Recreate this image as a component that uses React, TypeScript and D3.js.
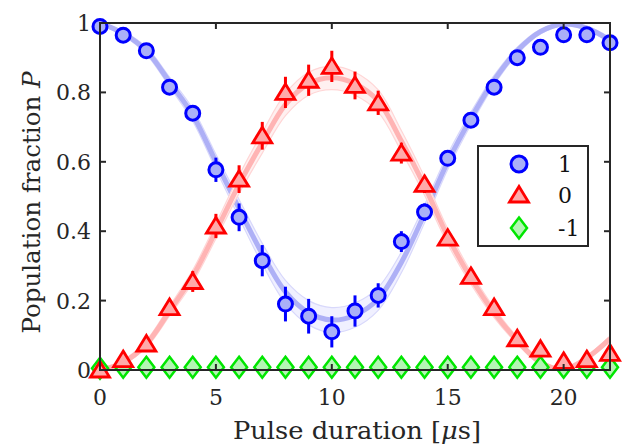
import React, { useRef, useEffect } from "react";
import * as d3 from "d3";

// pulse durations [us]
const times = [0, 1, 2, 3, 4, 5, 6, 7, 8, 9, 10, 11, 12, 13, 14, 15, 16, 17, 18, 19, 20, 21, 22];

// measured populations
const pop1 = [0.99, 0.965, 0.92, 0.815, 0.74, 0.577, 0.44, 0.315, 0.19, 0.155, 0.11, 0.17, 0.215, 0.37, 0.455, 0.61, 0.72, 0.815, 0.9, 0.93, 0.966, 0.966, 0.943];
const err1 = [0.01, 0.01, 0.012, 0.015, 0.02, 0.035, 0.04, 0.045, 0.05, 0.05, 0.045, 0.045, 0.035, 0.03, 0.025, 0.02, 0.015, 0.015, 0.01, 0.01, 0.01, 0.01, 0.01];
const pop0 = [0.0, 0.03, 0.075, 0.18, 0.255, 0.415, 0.55, 0.675, 0.8, 0.835, 0.875, 0.82, 0.77, 0.625, 0.535, 0.38, 0.27, 0.18, 0.09, 0.06, 0.025, 0.03, 0.048];
const err0 = [0.01, 0.012, 0.012, 0.02, 0.03, 0.035, 0.04, 0.04, 0.045, 0.045, 0.045, 0.04, 0.035, 0.03, 0.025, 0.02, 0.015, 0.012, 0.01, 0.01, 0.01, 0.01, 0.01];
const popM1 = [0.005, 0.008, 0.008, 0.008, 0.008, 0.008, 0.008, 0.008, 0.008, 0.008, 0.008, 0.008, 0.008, 0.008, 0.008, 0.008, 0.008, 0.008, 0.008, 0.008, 0.008, 0.008, 0.008];

// fitted curves and their confidence half-widths
const fit1 = [1.0, 0.97, 0.92, 0.83, 0.735, 0.6, 0.465, 0.335, 0.225, 0.165, 0.144, 0.158, 0.205, 0.31, 0.45, 0.6, 0.725, 0.835, 0.92, 0.975, 0.997, 0.985, 0.95];
const band1 = [0.003, 0.006, 0.01, 0.014, 0.018, 0.022, 0.026, 0.03, 0.033, 0.035, 0.036, 0.035, 0.033, 0.03, 0.026, 0.022, 0.018, 0.014, 0.01, 0.007, 0.005, 0.006, 0.008];
const fit0 = [0.0, 0.022, 0.075, 0.17, 0.27, 0.4, 0.535, 0.655, 0.765, 0.825, 0.842, 0.825, 0.775, 0.66, 0.53, 0.385, 0.265, 0.165, 0.085, 0.022, 0.002, 0.035, 0.09];
const band0 = [0.003, 0.006, 0.01, 0.014, 0.018, 0.022, 0.026, 0.03, 0.032, 0.033, 0.034, 0.033, 0.032, 0.03, 0.026, 0.022, 0.018, 0.014, 0.01, 0.007, 0.005, 0.006, 0.008];

const xTicks = [0, 5, 10, 15, 20];
const yTicks = [0, 0.2, 0.4, 0.6, 0.8, 1];
const legendLabels = ["1", "0", "-1"];

const W = 643;
const H = 446;
const FONT = "DejaVu Serif, serif";

const triPath = "M0,-8.5L9.5,7L-9.5,7Z";
const diaPath = "M0,-10.5L8,0L0,10.5L-8,0Z";

const App = () => {
  const svgRef = useRef<SVGSVGElement>(null);

  useEffect(() => {
    if (!svgRef.current) return;
    const margin = { top: 23, right: 33, bottom: 76, left: 100 };
    const width = W - margin.left - margin.right;
    const height = H - margin.top - margin.bottom;

    const x = d3.scaleLinear().domain([0, 22]).range([0, width]);
    const y = d3.scaleLinear().domain([0, 1]).range([height, 0]);

    d3.select(svgRef.current).selectAll("*").remove();
    const root = d3.select(svgRef.current);

    root
      .append("defs")
      .append("clipPath")
      .attr("id", "plot-clip")
      .append("rect")
      .attr("width", width)
      .attr("height", height);

    const svg = root.append("g").attr("transform", `translate(${margin.left},${margin.top})`);
    const fits = svg.append("g").attr("clip-path", "url(#plot-clip)");

    const drawFit = (fit: number[], band: number[], lineColor: string, bandFill: string, bandEdge: string) => {
      const area = d3
        .area<number>()
        .x((_, i) => x(times[i]))
        .y0((d, i) => y(d - band[i]))
        .y1((d, i) => y(d + band[i]))
        .curve(d3.curveCatmullRom);
      fits.append("path").datum(fit).attr("d", area).attr("fill", bandFill).attr("stroke", "none");
      [-1, 1].forEach((s) => {
        const edge = d3
          .line<number>()
          .x((_, i) => x(times[i]))
          .y((d, i) => y(d + s * band[i]))
          .curve(d3.curveCatmullRom);
        fits.append("path").datum(fit).attr("d", edge).attr("fill", "none").attr("stroke", bandEdge).attr("stroke-width", 1.2);
      });
      const line = d3
        .line<number>()
        .x((_, i) => x(times[i]))
        .y((d) => y(d))
        .curve(d3.curveCatmullRom);
      fits.append("path").datum(fit).attr("d", line).attr("fill", "none").attr("stroke", lineColor).attr("stroke-width", 5);
    };

    drawFit(fit1, band1, "#aeb0f6", "#f0f0ff", "#d8d8fb");
    drawFit(fit0, band0, "#ffb4b4", "#fff0f0", "#ffd6d6");

    // error bars + markers
    const drawSeries = (vals: number[], errs: number[] | null, color: string, fill: string, shape: string, sw: number) => {
      const g = svg.append("g");
      if (errs) {
        g.selectAll("line")
          .data(vals)
          .join("line")
          .attr("x1", (_, i) => x(times[i]))
          .attr("x2", (_, i) => x(times[i]))
          .attr("y1", (d, i) => y(d - errs[i]))
          .attr("y2", (d, i) => y(d + errs[i]))
          .attr("stroke", color)
          .attr("stroke-width", 3);
      }
      vals.forEach((d, i) => {
        if (shape === "circle") {
          g.append("circle").attr("cx", x(times[i])).attr("cy", y(d)).attr("r", 7)
            .attr("fill", fill).attr("stroke", color).attr("stroke-width", sw);
        } else {
          g.append("path").attr("d", shape).attr("transform", `translate(${x(times[i])},${y(d)})`)
            .attr("fill", fill).attr("stroke", color).attr("stroke-width", sw);
        }
      });
    };

    drawSeries(popM1, null, "#00e600", "#b4f5b4", diaPath, 2.5);
    drawSeries(pop0, err0, "#ff0000", "#ffaaaa", triPath, 2.8);
    drawSeries(pop1, err1, "#0000ff", "#aab0f8", "circle", 3);

    // axes box with inward ticks
    const axisColor = "#262626";
    const ax = svg.append("g");
    ax.append("rect").attr("width", width).attr("height", height).attr("fill", "none").attr("stroke", axisColor).attr("stroke-width", 2);
    xTicks.forEach((t) => {
      ax.append("line").attr("x1", x(t)).attr("x2", x(t)).attr("y1", height).attr("y2", height - 6).attr("stroke", axisColor).attr("stroke-width", 2);
      ax.append("line").attr("x1", x(t)).attr("x2", x(t)).attr("y1", 0).attr("y2", 6).attr("stroke", axisColor).attr("stroke-width", 2);
      ax.append("text").attr("x", x(t)).attr("y", height + 35).attr("text-anchor", "middle")
        .attr("font-family", FONT).attr("font-size", 22).attr("fill", "#262626").text(String(t));
    });
    yTicks.forEach((t) => {
      ax.append("line").attr("x1", 0).attr("x2", 6).attr("y1", y(t)).attr("y2", y(t)).attr("stroke", axisColor).attr("stroke-width", 2);
      ax.append("line").attr("x1", width).attr("x2", width - 6).attr("y1", y(t)).attr("y2", y(t)).attr("stroke", axisColor).attr("stroke-width", 2);
      ax.append("text").attr("x", -9).attr("y", y(t) + 8).attr("text-anchor", "end")
        .attr("font-family", FONT).attr("font-size", 22).attr("fill", "#262626").text(String(t));
    });

    // axis labels
    const xl = svg.append("text").attr("x", width / 2 + 2).attr("y", height + 69).attr("text-anchor", "middle")
      .attr("font-family", FONT).attr("font-size", 24).attr("fill", "#262626")
      .attr("textLength", 248).attr("lengthAdjust", "spacingAndGlyphs");
    xl.append("tspan").text("Pulse duration [");
    xl.append("tspan").attr("font-style", "italic").text("μ");
    xl.append("tspan").text("s]");

    const yl = svg.append("text").attr("transform", `translate(-60,${height / 2 + 6}) rotate(-90)`).attr("text-anchor", "middle")
      .attr("font-family", FONT).attr("font-size", 24).attr("fill", "#262626")
      .attr("textLength", 262).attr("lengthAdjust", "spacingAndGlyphs");
    yl.append("tspan").text("Population fraction ");
    yl.append("tspan").attr("font-style", "italic").text("P");

    // legend
    const lg = svg.append("g").attr("transform", `translate(${478 - margin.left},${146 - margin.top})`);
    lg.append("rect").attr("width", 110).attr("height", 100).attr("fill", "white").attr("stroke", axisColor).attr("stroke-width", 2);
    const rows = [18, 49, 82];
    lg.append("circle").attr("cx", 41).attr("cy", rows[0]).attr("r", 8).attr("fill", "#aab0f8").attr("stroke", "#0000ff").attr("stroke-width", 3);
    lg.append("path").attr("d", triPath).attr("transform", `translate(41,${rows[1]})`).attr("fill", "#ffaaaa").attr("stroke", "#ff0000").attr("stroke-width", 2.8);
    lg.append("path").attr("d", diaPath).attr("transform", `translate(41,${rows[2]})`).attr("fill", "#b4f5b4").attr("stroke", "#00e600").attr("stroke-width", 2.5);
    legendLabels.forEach((l, i) => {
      lg.append("text").attr("x", 80).attr("y", rows[i] + 8).attr("font-family", FONT).attr("font-size", 22).attr("fill", "#111").text(l);
    });
  }, []);

  return (
    <svg ref={svgRef} width={W} height={H} style={{ position: "absolute", left: 0, top: 0, background: "white" }}></svg>
  );
};

export default App;
